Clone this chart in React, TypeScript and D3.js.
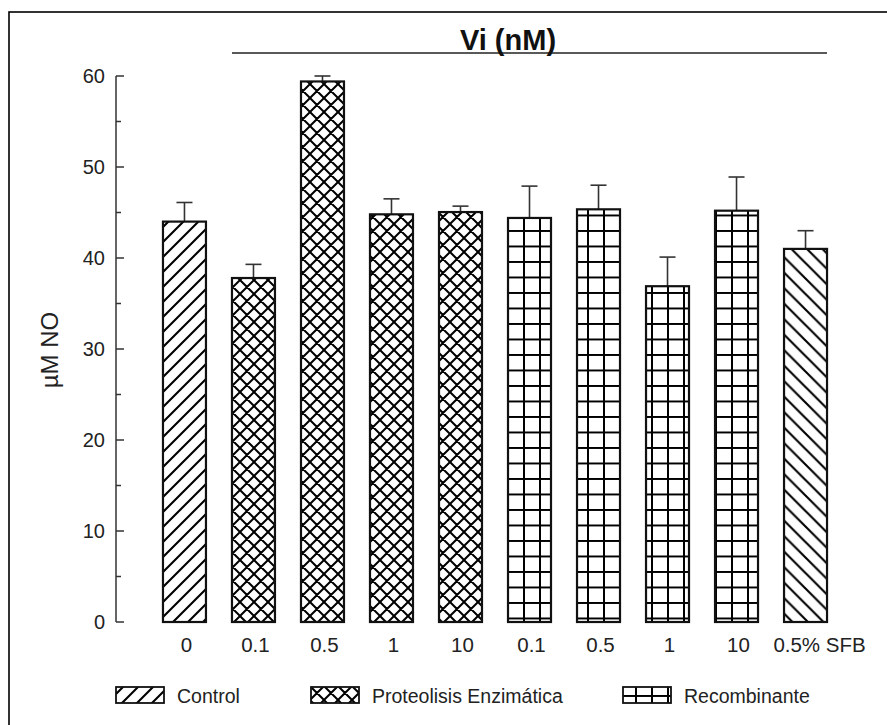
import React from "react";
import * as d3 from "d3";

const categories = ["0", "0.1", "0.5", "1", "10", "0.1", "0.5", "1", "10", "0.5% SFB"];
const groups = ["control", "prot", "prot", "prot", "prot", "rec", "rec", "rec", "rec", "sfb"];
const values = [44.0, 37.8, 59.4, 44.8, 45.05, 44.4, 45.35, 36.9, 45.2, 41.0];
const errors = [2.1, 1.5, 0.6, 1.7, 0.65, 3.5, 2.65, 3.2, 3.7, 2.0];
const legendLabels = ["Control", "Proteolisis Enzimática", "Recombinante"];
const legendGroups = ["control", "prot", "rec"];
const yTicks = [0, 10, 20, 30, 40, 50, 60];

const W = 887;
const H = 725;
const FONT = "'Liberation Sans', Arial, Helvetica, sans-serif";

export default function App() {
  const x = d3
    .scaleBand<number>()
    .domain(d3.range(categories.length))
    .range([150, 840])
    .paddingInner(0.377)
    .paddingOuter(0.188);
  const y = d3.scaleLinear().domain([0, 60]).range([622, 76]);
  const bw = x.bandwidth();
  const minor = d3.range(0, 61, 5).filter((v) => v % 10 !== 0);

  const fillFor = (g: string) => `url(#pat-${g})`;

  const axisX = 116;
  const lineStart = x(1)!;
  const lineEnd = x(9)! + bw;

  const legendX = [116, 311, 623];

  return (
    <div style={{ position: "absolute", left: 0, top: 0 }}>
      <svg width={W} height={H} style={{ display: "block", background: "#fff" }} fontFamily={FONT}>
        <defs>
          <pattern id="pat-control" patternUnits="userSpaceOnUse" width={15} height={15}>
            <path d="M-2,17 L17,-2 M-2,2 L2,-2 M13,17 L17,13" stroke="#000" strokeWidth={2.1} />
          </pattern>
          <pattern id="pat-sfb" patternUnits="userSpaceOnUse" width={15.5} height={15.5}>
            <path d="M-2,-2 L17.5,17.5 M-2,13.5 L2,17.5 M13.5,-2 L17.5,2" stroke="#000" strokeWidth={2.1} />
          </pattern>
          <pattern id="pat-prot" patternUnits="userSpaceOnUse" width={14} height={14} x={2} y={0}>
            <path
              d="M-2,16 L16,-2 M-2,-2 L16,16 M-2,2 L2,-2 M12,16 L16,12 M-2,12 L2,16 M12,-2 L16,2"
              stroke="#000"
              strokeWidth={2}
            />
          </pattern>
          <pattern id="pat-rec" patternUnits="userSpaceOnUse" width={16} height={15.5} x={523 - 16 * 33} y={354 - 15.5 * 22}>
            <path d="M1,-1 L1,16.5 M-1,1 L17,1" stroke="#000" strokeWidth={2} shapeRendering="crispEdges" />
          </pattern>
        </defs>

        {/* frame */}
        <rect x={9} y={12} width={W + 20} height={H + 20} fill="none" stroke="#000" strokeWidth={1.6} />

        {/* Vi (nM) bracket */}
        <line x1={lineStart} x2={lineEnd} y1={53} y2={53} stroke="#222" strokeWidth={1.6} />
        <text x={508} y={50} textAnchor="middle" fontSize={29} fontWeight="bold" fill="#111">
          Vi (nM)
        </text>

        {/* y axis */}
        <line x1={axisX} x2={axisX} y1={y(0)} y2={y(60)} stroke="#333" strokeWidth={1.5} />
        {yTicks.map((t) => (
          <g key={"t" + t}>
            <line x1={axisX} x2={axisX + 8} y1={y(t)} y2={y(t)} stroke="#333" strokeWidth={1.5} />
            <text x={105} y={y(t)} dy="0.36em" textAnchor="end" fontSize={20} fill="#222">
              {t}
            </text>
          </g>
        ))}
        {minor.map((t) => (
          <line key={"m" + t} x1={axisX} x2={axisX + 5} y1={y(t)} y2={y(t)} stroke="#333" strokeWidth={1.5} />
        ))}
        <text
          transform={`translate(58,350) rotate(-90)`}
          textAnchor="middle"
          fontSize={24}
          fill="#222"
        >
          µM NO
        </text>

        {/* bars */}
        {values.map((v, i) => {
          const x0 = x(i)!;
          const cx = x0 + bw / 2;
          return (
            <g key={"b" + i}>
              <line x1={cx} x2={cx} y1={y(v)} y2={y(v + errors[i])} stroke="#333" strokeWidth={1.6} />
              <line x1={cx - 8} x2={cx + 8} y1={y(v + errors[i])} y2={y(v + errors[i])} stroke="#333" strokeWidth={1.6} />
              <rect x={x0} y={y(v)} width={bw} height={y(0) - y(v)} fill="#fff" />
              <rect
                x={x0}
                y={y(v)}
                width={bw}
                height={y(0) - y(v)}
                fill={fillFor(groups[i])}
                stroke="#111"
                strokeWidth={2.2}
              />
              <text
                x={cx + (i === categories.length - 1 ? 14 : 2)}
                y={652}
                textAnchor="middle"
                fontSize={20.5}
                fill="#222"
              >
                {categories[i]}
              </text>
            </g>
          );
        })}

        {/* legend */}
        {legendLabels.map((lab, i) => (
          <g key={"l" + i}>
            <rect x={legendX[i]} y={687} width={48} height={16} fill="#fff" />
            <rect
              x={legendX[i]}
              y={687}
              width={48}
              height={16}
              fill={fillFor(legendGroups[i])}
              stroke="#111"
              strokeWidth={1.8}
            />
            <text x={legendX[i] + 61} y={703} fontSize={19.5} fill="#222">
              {lab}
            </text>
          </g>
        ))}
      </svg>
    </div>
  );
}
